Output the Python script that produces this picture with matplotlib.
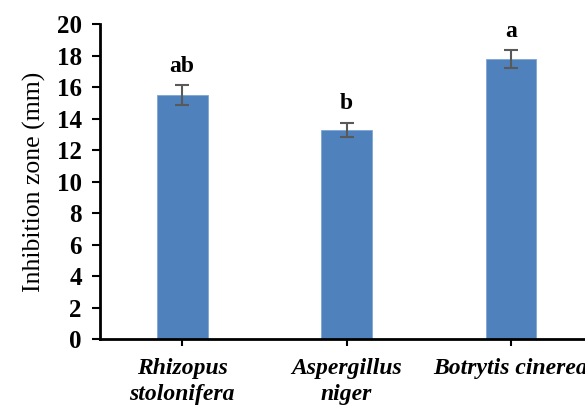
import matplotlib
matplotlib.use("Agg")
import matplotlib.pyplot as plt
import numpy as np

# data
fungi = ["Rhizopus\nstolonifera", "Aspergillus\nniger", "Botrytis cinerea"]
zone = [15.5, 13.3, 17.8]
err = [0.65, 0.45, 0.57]
letters = ["ab", "b", "a"]

plt.rcParams["font.family"] = ["Liberation Serif", "DejaVu Serif"]

fig = plt.figure(figsize=(5.85, 4.05), dpi=100)
ax = fig.add_axes([0.171, 0.163, 0.843, 0.777])

x = np.arange(len(fungi))
ax.bar(x, zone, width=0.31, color="#4f81bd", edgecolor="#7fa5d6", linewidth=0.6, zorder=2)
ax.errorbar(x, zone, yerr=err, fmt="none", ecolor="#595959", elinewidth=1.5,
            capsize=5, capthick=1.5, zorder=3)

for xi, v, e, t in zip(x, zone, err, letters):
    ax.annotate(t, (xi, v + e), xytext=(0, 6), textcoords="offset points",
                ha="center", va="bottom", fontsize=17, fontweight="bold")

ax.set_xlim(-0.5, 2.5)
ax.set_ylim(0, 20)
ax.set_yticks(np.arange(0, 21, 2))
ax.set_xticks(x)
ax.set_xticklabels(fungi, fontsize=17, fontweight="bold", fontstyle="italic",
                   linespacing=1.3)
for lab in ax.get_yticklabels():
    lab.set_fontsize(18)
    lab.set_fontweight("bold")

ax.set_ylabel("Inhibition zone (mm)", fontsize=18.5, labelpad=8)

ax.spines["top"].set_visible(False)
ax.spines["right"].set_visible(False)
ax.spines["left"].set_linewidth(2)
ax.spines["bottom"].set_linewidth(2)
ax.tick_params(axis="y", direction="out", length=6, width=1.5, pad=7)
ax.tick_params(axis="x", direction="out", length=5, width=1.5, pad=9)

plt.savefig("out.png", dpi=100)
